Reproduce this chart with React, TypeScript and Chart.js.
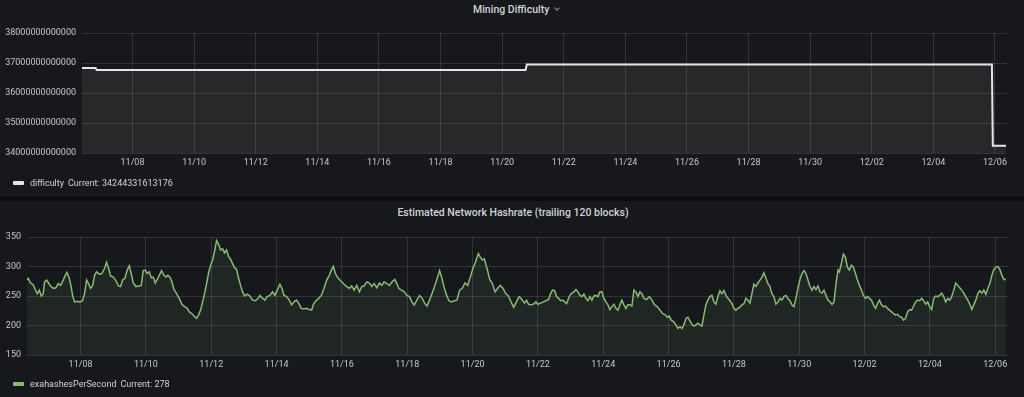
import React, { useEffect, useRef } from "react";
import { Chart, registerables } from "chart.js";

Chart.register(...registerables);

// ---- Data ----
// x values are days since Oct 31 (11/08 = 8, 12/06 = 36)
const xTickDays = [8, 10, 12, 14, 16, 18, 20, 22, 24, 26, 28, 30, 32, 34, 36];
const xTickLabels = ["11/08", "11/10", "11/12", "11/14", "11/16", "11/18", "11/20", "11/22", "11/24", "11/26", "11/28", "11/30", "12/02", "12/04", "12/06"];

const difficultyTicks = [34000000000000, 35000000000000, 36000000000000, 37000000000000, 38000000000000];
const hashrateTicks = [150, 200, 250, 300, 350];

const difficultyTimes = [6.36, 6.80, 6.84, 20.76, 20.80, 35.90, 35.93, 36.36];
const difficultyValues = [36835682546788, 36835682546788, 36762755504370, 36762755504370, 36950494067146, 36950494067146, 34244331613176, 34244331613176];

const hashrateTimes = [
  6.347, 6.398, 6.469, 6.551, 6.612, 6.673, 6.735, 6.796, 6.857, 6.898, 6.959, 7.020, 7.082, 7.163, 7.245, 7.316, 7.388, 7.469, 7.531, 7.582,
  7.643, 7.704, 7.755, 7.816, 7.898, 7.980, 8.061, 8.122, 8.184, 8.245, 8.306, 8.367, 8.429, 8.490, 8.571, 8.653, 8.735, 8.796, 8.857, 8.918,
  9.000, 9.082, 9.163, 9.224, 9.286, 9.357, 9.429, 9.490, 9.551, 9.612, 9.694, 9.776, 9.857, 9.918, 9.980, 10.041, 10.102, 10.163, 10.224, 10.286,
  10.347, 10.408, 10.480, 10.551, 10.612, 10.673, 10.735, 10.796, 10.857, 10.939, 11.020, 11.102, 11.184, 11.265, 11.327, 11.408, 11.469, 11.551, 11.612, 11.673,
  11.735, 11.796, 11.857, 11.918, 11.980, 12.041, 12.102, 12.163, 12.224, 12.286, 12.347, 12.408, 12.469, 12.531, 12.592, 12.653, 12.714, 12.776, 12.837, 12.898,
  12.959, 13.020, 13.102, 13.184, 13.265, 13.347, 13.439,
  13.489, 13.571, 13.642, 13.714, 13.796, 13.877, 13.949, 14.020, 14.102, 14.164, 14.225, 14.307, 14.389, 14.460, 14.532, 14.613, 14.685, 14.757, 14.838, 14.920,
  15.002, 15.074, 15.125, 15.207, 15.288, 15.370, 15.452, 15.534, 15.616, 15.677, 15.738, 15.800, 15.861, 15.922, 15.994, 16.065, 16.147, 16.229, 16.301, 16.372,
  16.454, 16.536, 16.607, 16.679, 16.761, 16.843, 16.914, 16.986, 17.067, 17.149, 17.221, 17.292, 17.374, 17.456, 17.538, 17.620, 17.681, 17.742, 17.824, 17.906,
  17.988, 18.070, 18.141, 18.213, 18.294, 18.376, 18.458, 18.540, 18.601, 18.683, 18.765, 18.847, 18.928, 18.990, 19.051, 19.112, 19.194, 19.276, 19.358, 19.440,
  19.521, 19.603, 19.685, 19.767, 19.849, 19.930, 20.012, 20.094, 20.176, 20.237, 20.299, 20.360, 20.442, 20.524, 20.605, 20.687, 20.769, 20.851, 20.933, 21.014,
  21.096, 21.178, 21.259, 21.341, 21.423,
  21.469, 21.531, 21.592, 21.653, 21.714, 21.776, 21.857, 21.939, 22.000, 22.082, 22.163, 22.245, 22.327, 22.388, 22.449, 22.510, 22.571, 22.633, 22.694, 22.755,
  22.816, 22.878, 22.959, 23.020, 23.102, 23.163, 23.224, 23.286, 23.347, 23.408, 23.469, 23.531, 23.592, 23.653, 23.714, 23.776, 23.837, 23.898, 23.959, 24.020,
  24.082, 24.143, 24.204, 24.265, 24.327, 24.388, 24.449, 24.510, 24.571, 24.633, 24.694, 24.755, 24.816, 24.878, 24.939, 25.000, 25.061, 25.122, 25.184, 25.245,
  25.327, 25.408, 25.490, 25.571, 25.653, 25.735, 25.816, 25.898, 25.959, 26.020, 26.082, 26.163, 26.224, 26.286, 26.347, 26.408, 26.469, 26.531, 26.592, 26.653,
  26.714, 26.776, 26.837, 26.898, 26.959, 27.020, 27.082, 27.143, 27.204, 27.265, 27.327, 27.388, 27.449, 27.510, 27.571, 27.633, 27.694, 27.755, 27.816, 27.878,
  27.939, 28.000, 28.061, 28.122, 28.184, 28.245, 28.306, 28.367, 28.429, 28.490, 28.551, 28.612, 28.673, 28.735, 28.796, 28.857, 28.918, 28.980, 29.041, 29.102,
  29.163, 29.224, 29.286, 29.347, 29.408,
  29.468, 29.529, 29.591, 29.652, 29.713, 29.775, 29.836, 29.898, 29.959, 30.020, 30.082, 30.143, 30.205, 30.266, 30.328, 30.389, 30.450, 30.512, 30.573, 30.635,
  30.696, 30.757, 30.819, 30.880, 30.942, 31.003, 31.064, 31.126, 31.187, 31.228, 31.290, 31.351, 31.412, 31.474, 31.535, 31.597, 31.658, 31.720, 31.781, 31.842,
  31.904, 31.965, 32.027, 32.088, 32.149, 32.211, 32.272, 32.334, 32.395, 32.456, 32.518, 32.579, 32.641, 32.702, 32.764, 32.825, 32.886, 32.948, 33.009, 33.071,
  33.132, 33.193, 33.255, 33.316, 33.378, 33.439, 33.501, 33.562, 33.623, 33.685, 33.746, 33.808, 33.869, 33.930, 33.992, 34.053, 34.115, 34.176, 34.237, 34.299,
  34.360, 34.422, 34.483, 34.545, 34.606, 34.667, 34.729, 34.790, 34.852, 34.913, 34.974, 35.036, 35.097, 35.159, 35.220, 35.281, 35.343, 35.404, 35.466, 35.527,
  35.589, 35.650, 35.712, 35.773, 35.834, 35.896, 35.957, 36.018, 36.080, 36.141, 36.203, 36.264, 36.325,
];

const hashrateValues = [
  277, 280, 272, 269, 261, 254, 260, 250, 254, 274, 277, 272, 267, 263, 264, 271, 268, 277, 285, 290,
  282, 268, 251, 240, 241, 240, 242, 254, 277, 271, 263, 267, 285, 291, 287, 288, 297, 307, 297, 284,
  282, 276, 267, 266, 277, 280, 294, 301, 288, 272, 266, 267, 268, 293, 294, 288, 291, 281, 282, 272,
  278, 285, 293, 285, 282, 285, 282, 274, 261, 254, 246, 236, 232, 229, 223, 220, 216, 212, 218, 226,
  240, 254, 271, 289, 302, 311, 326, 344, 338, 328, 330, 323, 328, 317, 312, 305, 298, 295, 280, 268,
  257, 250, 253, 250, 243, 242, 246,
  251, 246, 243, 249, 251, 257, 251, 260, 270, 263, 251, 249, 243, 235, 240, 243, 237, 229, 228, 229,
  227, 226, 236, 242, 246, 251, 263, 277, 285, 294, 300, 288, 282, 278, 274, 270, 266, 263, 267, 260,
  268, 257, 266, 267, 274, 272, 266, 271, 264, 272, 268, 274, 271, 268, 274, 278, 271, 263, 260, 257,
  251, 249, 240, 235, 243, 251, 246, 237, 233, 243, 255, 268, 282, 293, 282, 268, 253, 242, 240, 242,
  243, 260, 263, 272, 268, 282, 297, 308, 322, 316, 311, 313, 297, 278, 271, 257, 263, 268, 263, 254,
  250, 240, 231, 240, 249,
  247, 242, 238, 243, 236, 235, 236, 240, 236, 238, 240, 242, 244, 254, 260, 259, 249, 246, 242, 243,
  240, 237, 249, 254, 257, 261, 257, 251, 249, 253, 246, 242, 249, 243, 250, 251, 249, 257, 257, 246,
  240, 235, 227, 232, 236, 229, 226, 235, 243, 235, 229, 235, 235, 233, 260, 257, 249, 257, 254, 246,
  244, 249, 243, 235, 232, 226, 220, 218, 214, 216, 209, 206, 201, 195, 198, 195, 201, 212, 214, 208,
  202, 199, 201, 204, 201, 199, 218, 235, 243, 249, 251, 240, 236, 249, 259, 254, 259, 251, 246, 242,
  237, 229, 226, 229, 231, 235, 237, 246, 243, 238, 254, 270, 266, 272, 277, 282, 289, 280, 271, 266,
  254, 249, 236, 240, 246,
  243, 249, 251, 246, 242, 235, 232, 246, 263, 278, 288, 293, 288, 277, 266, 260, 266, 261, 267, 257,
  255, 260, 251, 243, 240, 236, 240, 271, 294, 291, 305, 321, 316, 299, 294, 302, 299, 288, 277, 268,
  260, 251, 246, 249, 246, 243, 235, 229, 237, 243, 235, 232, 233, 229, 226, 223, 220, 218, 219, 215,
  214, 209, 212, 223, 227, 226, 233, 240, 243, 242, 246, 242, 236, 240, 232, 227, 246, 250, 249, 251,
  255, 249, 240, 246, 243, 249, 260, 272, 268, 264, 260, 255, 249, 243, 236, 227, 235, 243, 254, 259,
  255, 260, 253, 263, 271, 285, 295, 299, 300, 295, 285, 278, 278,
];

// ---- Styling ----
const PAGE_BG = "#0c0d0f";
const PANEL_BG = "#17181b";
const GRID = "rgba(255,255,255,0.12)";
const TICK = "#c4c7cb";
const TEXT = "#d0d3d7";
const DIFF_COLOR = "#e8e3ea";
const HASH_COLOR = "#87bb75";
const FONT = "Roboto, 'Noto Sans', sans-serif";
const X_MIN = 6.36;
const X_MAX = 36.39;

function xScale() {
  return {
    type: "linear" as const,
    min: X_MIN,
    max: X_MAX,
    afterBuildTicks: (s: any) => {
      s.ticks = xTickDays.map((v) => ({ value: v }));
    },
    afterFit: (s: any) => {
      s.height = 20;
    },
    ticks: {
      callback: (v: any) => xTickLabels[xTickDays.indexOf(Math.round(Number(v)))] ?? "",
      color: TICK,
      font: { family: FONT, size: 9 },
      padding: 4,
      maxRotation: 0,
      autoSkip: false,
    },
    grid: { color: GRID, drawTicks: false, lineWidth: 1 },
    border: { display: false },
  };
}

function yScale(ticksArr: number[], width: number) {
  return {
    type: "linear" as const,
    min: ticksArr[0],
    max: ticksArr[ticksArr.length - 1],
    afterBuildTicks: (s: any) => {
      s.ticks = ticksArr.map((v) => ({ value: v }));
    },
    afterFit: (s: any) => {
      s.width = width;
    },
    ticks: {
      callback: (v: any) => Math.round(Number(v)).toString(),
      color: TICK,
      font: { family: FONT, size: 9 },
      padding: 6,
    },
    grid: { color: GRID, drawTicks: false, lineWidth: 1 },
    border: { display: false },
  };
}

function ChartCanvas(props: {
  width: number;
  height: number;
  times: number[];
  values: number[];
  color: string;
  fillColor: string;
  lineWidth: number;
  yTicks: number[];
  yWidth: number;
  padding: { left: number; right: number; top: number; bottom: number };
}) {
  const ref = useRef<HTMLCanvasElement | null>(null);
  useEffect(() => {
    if (!ref.current) return;
    const chart = new Chart(ref.current, {
      type: "line",
      data: {
        datasets: [
          {
            data: props.times.map((t, i) => ({ x: t, y: props.values[i] })),
            borderColor: props.color,
            backgroundColor: props.fillColor,
            borderWidth: props.lineWidth,
            fill: "start",
            pointRadius: 0,
            tension: 0,
          },
        ],
      },
      options: {
        animation: false,
        responsive: false,
        maintainAspectRatio: false,
        layout: { padding: props.padding },
        plugins: { legend: { display: false }, tooltip: { enabled: false } },
        scales: {
          x: xScale() as any,
          y: yScale(props.yTicks, props.yWidth) as any,
        },
      },
    });
    return () => chart.destroy();
  }, []);
  return (
    <canvas
      ref={ref}
      width={props.width}
      height={props.height}
      style={{ display: "block", width: props.width, height: props.height }}
    />
  );
}

function Legend(props: { top: number; color: string; name: string; current: string }) {
  return (
    <div style={{ position: "absolute", left: 0, top: props.top, height: 14, width: 400 }}>
      <div
        style={{
          position: "absolute",
          left: 13,
          top: 5,
          width: 11,
          height: 4,
          background: props.color,
          borderRadius: 1,
        }}
      />
      <div
        style={{
          position: "absolute",
          left: 30,
          top: 0,
          lineHeight: "14px",
          fontSize: 9,
          fontFamily: FONT,
          color: TEXT,
          whiteSpace: "nowrap",
        }}
      >
        {props.name}
        <span style={{ marginLeft: 4 }}>Current: {props.current}</span>
      </div>
    </div>
  );
}

export default function App() {
  useEffect(() => {
    document.body.style.margin = "0";
    document.body.style.background = PAGE_BG;
  }, []);
  return (
    <div style={{ position: "relative", width: 1024, height: 397, background: PAGE_BG, overflow: "hidden" }}>
      {/* Top panel */}
      <div style={{ position: "absolute", left: 0, top: 0, width: 1024, height: 197, background: PANEL_BG }}>
        <div
          style={{
            position: "absolute",
            left: 473,
            top: 3,
            lineHeight: "14px",
            fontSize: 10.5,
            fontWeight: 500,
            fontFamily: FONT,
            color: TEXT,
            whiteSpace: "nowrap",
          }}
        >
          Mining Difficulty
          <span
            style={{
              display: "inline-block",
              width: 3,
              height: 3,
              marginLeft: 6,
              marginBottom: 3,
              borderRight: "1px solid #8d9096",
              borderBottom: "1px solid #8d9096",
              transform: "rotate(45deg)",
            }}
          />
        </div>
        <div style={{ position: "absolute", left: 0, top: 0 }}>
          <ChartCanvas
            width={1024}
            height={197}
            times={difficultyTimes}
            values={difficultyValues}
            color={DIFF_COLOR}
            fillColor="rgba(232,227,234,0.08)"
            lineWidth={2}
            yTicks={difficultyTicks}
            yWidth={82}
            padding={{ left: 0, right: 17, top: 33, bottom: 24 }}
          />
        </div>
        <Legend top={176} color={DIFF_COLOR} name="difficulty" current="34244331613176" />
      </div>

      {/* Bottom panel */}
      <div style={{ position: "absolute", left: 0, top: 201, width: 1024, height: 196, background: PANEL_BG }}>
        <div
          style={{
            position: "absolute",
            left: 0,
            top: 5,
            width: 1026,
            textAlign: "center",
            lineHeight: "14px",
            fontSize: 10.5,
            fontWeight: 500,
            fontFamily: FONT,
            color: TEXT,
            whiteSpace: "nowrap",
          }}
        >
          Estimated Network Hashrate (trailing 120 blocks)
        </div>
        <div style={{ position: "absolute", left: 0, top: 0 }}>
          <ChartCanvas
            width={1024}
            height={196}
            times={hashrateTimes}
            values={hashrateValues}
            color={HASH_COLOR}
            fillColor="rgba(135,187,117,0.09)"
            lineWidth={1.5}
            yTicks={hashrateTicks}
            yWidth={27}
            padding={{ left: 0, right: 16, top: 36, bottom: 22 }}
          />
        </div>
        <Legend top={176} color={HASH_COLOR} name="exahashesPerSecond" current="278" />
      </div>
    </div>
  );
}
